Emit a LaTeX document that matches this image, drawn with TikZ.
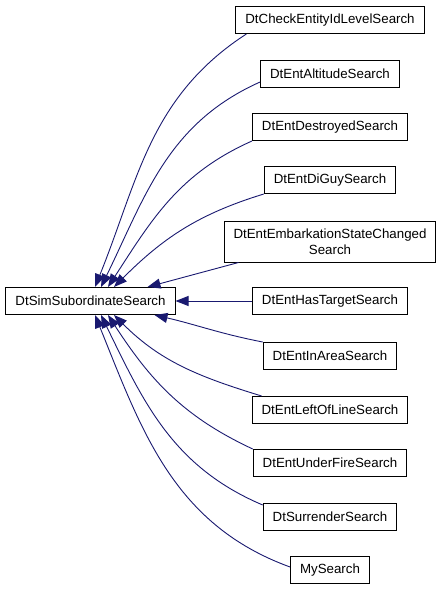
\documentclass[tikz,border=0pt]{standalone}
\usepackage{fontspec}
\setmainfont{Liberation Sans}
\usetikzlibrary{arrows.meta}
\definecolor{edgeblue}{RGB}{25,25,112}

\begin{document}
\begin{tikzpicture}[x=1pt,y=-1pt,
					%>=stealth',
					%shorten >=1pt,
					auto,
					class node/.style={rectangle,draw,line width=1pt,
						inner xsep=9.5pt,inner ysep=0pt,minimum height=27pt,
						font=\fontsize{13.3pt}{15.5pt}\selectfont,align=center},
					inherit/.style={edgeblue,line width=0.9pt,
						{Triangle[length=13pt,width=10pt]}-}]

  \useasboundingbox (0,0) rectangle (443,589);

  \node[class node] (base) at (90.5,301) {DtSimSubordinateSearch};

  \node[class node] (level)    at (330,20)  {DtCheckEntityIdLevelSearch};
  \node[class node] (altitude) at (330,74)  {DtEntAltitudeSearch};
  \node[class node] (destroy)  at (330,127) {DtEntDestroyedSearch};
  \node[class node] (diguy)    at (330,180) {DtEntDiGuySearch};
  \node[class node,minimum height=41pt] (embark) at (330,241.5)
        {DtEntEmbarkationStateChanged\\Search};
  \node[class node] (target)   at (330,301) {DtEntHasTargetSearch};
  \node[class node] (area)     at (330,356) {DtEntInAreaSearch};
  \node[class node] (leftof)   at (330,410) {DtEntLeftOfLineSearch};
  \node[class node] (fire)     at (330,463) {DtEntUnderFireSearch};
  \node[class node] (surrender) at (330,517) {DtSurrenderSearch};
  \node[class node] (mysearch) at (330,570) {MySearch};

  \path[inherit]
    ([xshift=4.5pt]base.north)  edge[out=68,in=213] ([xshift=11pt]level.south west)
    ([xshift=10.5pt]base.north) edge[out=64,in=204] ([yshift=-8pt]altitude.west)
    ([xshift=17.5pt]base.north) edge[out=57,in=204] (destroy.south west)
    ([xshift=23.5pt]base.north) edge[out=45,in=197] (diguy.south west)
    ([xshift=57pt]base.north)   edge ([xshift=15pt]embark.south west)
    (base.east)                 edge (target.west)
    ([xshift=64pt]base.south)   edge[out=-13,in=169] (area.north west)
    ([xshift=23.5pt]base.south) edge[out=-45,in=163] ([xshift=10pt]leftof.north west)
    ([xshift=17.5pt]base.south) edge[out=-57,in=155] (fire.north west)
    ([xshift=10.5pt]base.south) edge[out=-64,in=157] ([yshift=-2pt]surrender.north west)
    ([xshift=4.5pt]base.south)  edge[out=-68,in=160] ([yshift=3pt]mysearch.west)
;
\end{tikzpicture}
\end{document}
